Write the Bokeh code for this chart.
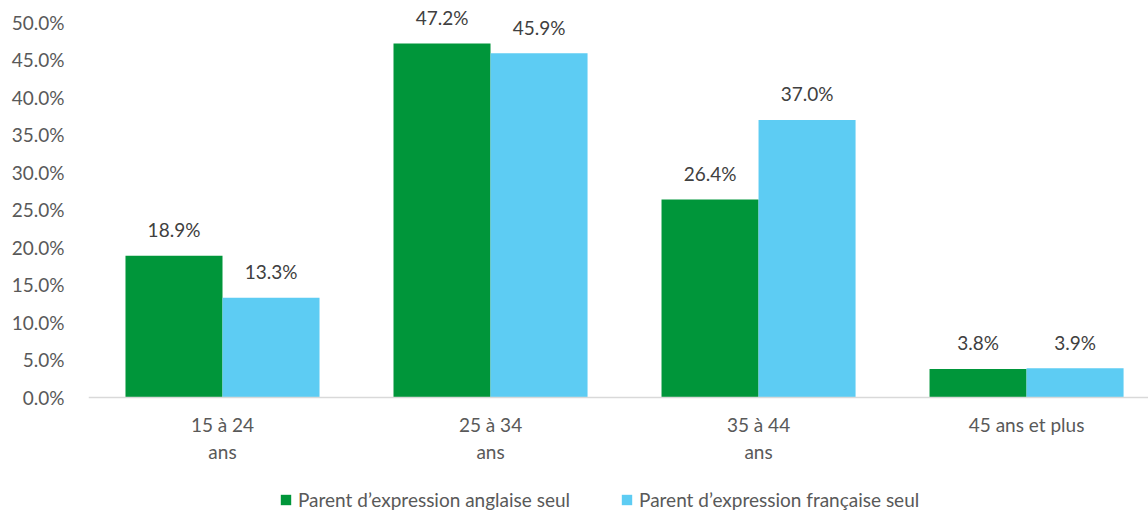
import numpy as np
from bokeh.plotting import figure
from bokeh.models import ColumnDataSource, FixedTicker, Legend, LegendItem, NumeralTickFormatter, Range1d, Span
from bokeh.core.properties import value
from bokeh.embed import file_html
from bokeh.resources import INLINE

categories = ["15 à 24\nans", "25 à 34\nans", "35 à 44\nans", "45 ans et plus"]
series_names = ["Parent d’expression anglaise seul", "Parent d’expression française seul"]
anglaise = [18.9, 47.2, 26.4, 3.8]
francaise = [13.3, 45.9, 37.0, 3.9]
y_ticks = [0, 5, 10, 15, 20, 25, 30, 35, 40, 45, 50]

colors = ["#00963A", "#5DCCF3"]
FONT = "Lato"
FS = "19px"

idx = np.arange(len(categories)) + 0.5
bw = 0.362

p = figure(frame_width=1060, frame_height=511, output_backend="svg", toolbar_location=None,
           x_range=Range1d(0, 3.955), y_range=Range1d(-15.2, 52.93),
           min_border_left=88, min_border_right=0, min_border_top=0, min_border_bottom=0)
p.outline_line_color = None
p.xgrid.visible = False
p.ygrid.visible = False
p.background_fill_color = "white"
p.border_fill_color = "white"
p.xaxis.visible = False

# category axis line
p.add_layout(Span(location=0, dimension="width", line_color="#D9D9D9", line_width=1.5))

renderers = []
for k, (vals, col) in enumerate(zip([anglaise, francaise], colors)):
    xs = idx + (k - 0.5) * bw
    src = ColumnDataSource(dict(x=xs, top=vals, lab=[f"{v:.1f}%" for v in vals]))
    r = p.vbar(x="x", top="top", width=bw, bottom=0, source=src, fill_color=col, line_color=None)
    renderers.append(r)
    p.text(x="x", y="top", text="lab", source=src, text_align="center", text_baseline="middle",
           y_offset=-26, text_font=value(FONT), text_font_size=FS, text_color="#404040")

# category labels
csrc = ColumnDataSource(dict(x=idx, y=np.zeros(len(categories)), t=categories))
p.text(x="x", y="y", text="t", source=csrc, text_align="center", text_baseline="top",
       y_offset=16, text_font=value(FONT), text_font_size=FS, text_color="#595959",
       text_line_height=1.15)

# y axis
p.yaxis.ticker = FixedTicker(ticks=y_ticks)
p.yaxis.formatter = NumeralTickFormatter(format="0.0")
p.yaxis.major_label_overrides = {t: f"{t:.1f}%" for t in y_ticks}
p.yaxis.axis_line_color = None
p.yaxis.major_tick_line_color = None
p.yaxis.minor_tick_line_color = None
p.yaxis.major_tick_out = 0
p.yaxis.major_tick_in = 0
p.yaxis.minor_tick_out = 0
p.yaxis.major_label_standoff = 24
p.yaxis.major_label_text_font = FONT
p.yaxis.major_label_text_font_size = FS
p.yaxis.major_label_text_color = "#595959"

legend = Legend(items=[LegendItem(label=n, renderers=[r]) for n, r in zip(series_names, renderers)],
                orientation="horizontal", location=(191, 0))
legend.label_text_font = FONT
legend.label_text_font_size = FS
legend.label_text_color = "#595959"
legend.glyph_width = 13
legend.glyph_height = 13
legend.label_standoff = 6
legend.spacing = 50
legend.padding = 0
legend.margin = 0
legend.border_line_color = None
legend.background_fill_alpha = 0
p.add_layout(legend)

open("out.html", "w").write(file_html(p, INLINE))
